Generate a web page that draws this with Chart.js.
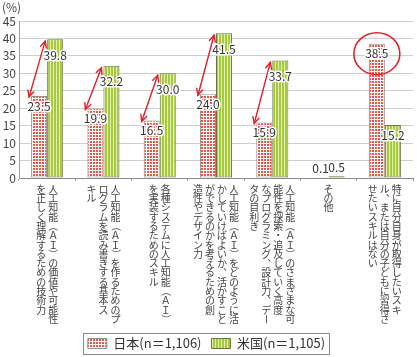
<!DOCTYPE html>
<html><head><meta charset="utf-8">
<script src="https://cdn.jsdelivr.net/npm/chart.js@4/dist/chart.umd.min.js"></script>
<style>html,body{margin:0;padding:0;background:#fff}#wrap{width:417px;height:357px;position:relative}</style>
</head><body><div id="wrap"><canvas id="c"></canvas></div>
<script>
// ---- data ----
const categories = [
  ["人工知能（ＡＩ）の価値や可能性","を正しく理解するための技術力"],
  ["人工知能（ＡＩ）を作るためのプ","ログラムを読み書きする基本ス","キル"],
  ["各種システムに人工知能（ＡＩ）","を実装するためのスキル"],
  ["人工知能（ＡＩ）をどのように活","かしていけばよいか、活かすこと","ができるのかを考えるための創","造性やデザイン力"],
  ["人工知能（ＡＩ）のさまざまな可","能性を探索・追及していく高度","なプログラミング、設計力、デー","タの目利き"],
  ["その他"],
  ["特に自分自身が取得したいスキ","ル、または自分の子どもに習得さ","せたいスキルはない"]
];
const seriesNames = ["日本(n＝1,106)", "米国(n＝1,105)"];
const japanValues = [23.5, 19.9, 16.5, 24.0, 15.9, 0.1, 38.5];
const usValues    = [39.8, 32.2, 30.0, 41.5, 33.7, 0.5, 15.2];
const yTicks = [0, 5, 10, 15, 20, 25, 30, 35, 40, 45];
const unitLabel = "(%)";
const arrowCategories = [0, 1, 2, 3, 4];
const highlightCategory = 6;

const FONT = '"Noto Sans CJK JP","Noto Sans",sans-serif';
Chart.defaults.font.family = FONT;

function makePattern(draw, w, h) {
  const c = document.createElement('canvas');
  c.width = w; c.height = h;
  draw(c.getContext('2d'));
  return c.getContext('2d').createPattern(c, 'repeat');
}
const jpPattern = makePattern(g => {
  g.fillStyle = '#ffffff'; g.fillRect(0, 0, 3, 3);
  g.fillStyle = '#e8574a'; g.fillRect(0, 0, 2, 2);
}, 3, 3);
const usPattern = makePattern(g => {
  g.fillStyle = '#e6f0ae'; g.fillRect(0, 0, 3, 1);
  g.fillStyle = '#a6c942'; g.fillRect(0, 0, 2, 1);
}, 3, 1);

const rotateChars = new Set(['（','）','(',')','ー','－','―']);

const overlayPlugin = {
  id: 'overlay',
  afterDatasetsDraw(chart) {
    const ctx = chart.ctx;
    const m0 = chart.getDatasetMeta(0).data;
    const m1 = chart.getDatasetMeta(1).data;
    // arrows
    ctx.save();
    ctx.strokeStyle = '#e4202a';
    ctx.lineWidth = 1.4;
    ctx.lineCap = 'round';
    arrowCategories.forEach(i => {
      const a = m0[i], b = m1[i];
      const x1 = a.x - a.width / 2 - 2, y1 = a.y + 1;
      const x2 = b.x - b.width / 2 - 2, y2 = b.y + 2;
      ctx.beginPath(); ctx.moveTo(x1, y1); ctx.lineTo(x2, y2); ctx.stroke();
      const head = (tx, ty, fx, fy) => {
        const ang = Math.atan2(ty - fy, tx - fx);
        const L = 7, s = 0.45;
        ctx.beginPath();
        ctx.moveTo(tx - L * Math.cos(ang - s), ty - L * Math.sin(ang - s));
        ctx.lineTo(tx, ty);
        ctx.lineTo(tx - L * Math.cos(ang + s), ty - L * Math.sin(ang + s));
        ctx.stroke();
      };
      head(x1, y1, x2, y2);
      head(x2, y2, x1, y1);
    });
    ctx.restore();
    // value labels
    ctx.save();
    ctx.font = '12px ' + FONT;
    ctx.textAlign = 'center';
    ctx.textBaseline = 'middle';
    ctx.lineJoin = 'round';
    chart.data.datasets.forEach((ds, di) => {
      chart.getDatasetMeta(di).data.forEach((bar, i) => {
        const v = ds.data[i];
        let y;
        if (v < 3) y = bar.y - 9;
        else if (di === 1 && arrowCategories.includes(i)) y = bar.y + 16;
        else y = bar.y + 10;
        const t = v.toFixed(1);
        ctx.strokeStyle = '#ffffff'; ctx.lineWidth = 3;
        ctx.strokeText(t, bar.x, y);
        ctx.fillStyle = '#333333';
        ctx.fillText(t, bar.x, y);
      });
    });
    ctx.restore();
    // highlight circle
    const h = m0[highlightCategory];
    ctx.save();
    ctx.strokeStyle = '#e4202a';
    ctx.lineWidth = 1.6;
    ctx.beginPath();
    ctx.ellipse(h.x, h.y + 10, 23, 21, 0, 0, Math.PI * 2);
    ctx.stroke();
    ctx.restore();
  },
  afterDraw(chart) {
    const ctx = chart.ctx;
    const xs = chart.scales.x;
    const area = chart.chartArea;
    // unit label
    ctx.save();
    ctx.font = '12px ' + FONT;
    ctx.fillStyle = '#444';
    ctx.textAlign = 'left';
    ctx.textBaseline = 'middle';
    ctx.fillText(unitLabel, 2, area.top - 14);
    ctx.restore();
    // vertical category labels
    ctx.save();
    ctx.font = '10px ' + FONT;
    ctx.fillStyle = '#444';
    ctx.textAlign = 'center';
    ctx.textBaseline = 'middle';
    const pitch = 9.3, colGap = 12;
    chart.data.labels.forEach((cols, i) => {
      const cx = xs.getPixelForValue(i);
      const n = cols.length;
      cols.forEach((col, j) => {
        const x = cx + (n - 1) / 2 * colGap - j * colGap;
        Array.from(col).forEach((ch, k) => {
          const y = area.bottom + 11 + k * pitch;
          if (rotateChars.has(ch)) {
            ctx.save(); ctx.translate(x, y); ctx.rotate(Math.PI / 2);
            ctx.fillText(ch, 0, 0); ctx.restore();
          } else if (ch === '、' || ch === '。') {
            ctx.fillText(ch, x + 6, y - 6);
          } else {
            ctx.fillText(ch, x, y);
          }
        });
      });
    });
    ctx.restore();
    // legend frame
    const lg = chart.legend;
    if (lg && lg.legendHitBoxes && lg.legendHitBoxes.length) {
      const hb = lg.legendHitBoxes;
      const l = Math.min(...hb.map(b => b.left)) - 5;
      const r = Math.max(...hb.map(b => b.left + b.width)) + 4;
      const t = Math.min(...hb.map(b => b.top)) - 4;
      const btm = Math.max(...hb.map(b => b.top + b.height)) + 4;
      ctx.save();
      ctx.strokeStyle = '#8a8a8a';
      ctx.lineWidth = 1;
      ctx.strokeRect(Math.round(l) + 0.5, Math.round(t) + 0.5, Math.round(r - l), Math.round(btm - t));
      ctx.restore();
    }
  }
};

new Chart(document.getElementById('c'), {
  type: 'bar',
  data: {
    labels: categories,
    datasets: [
      { label: seriesNames[0], data: japanValues, backgroundColor: jpPattern,
        borderColor: '#9a8c8c', borderWidth: 1, borderSkipped: false,
        categoryPercentage: 0.57, barPercentage: 1.0 },
      { label: seriesNames[1], data: usValues, backgroundColor: usPattern,
        borderColor: '#6f7444', borderWidth: 1, borderSkipped: false,
        categoryPercentage: 0.57, barPercentage: 1.0 }
    ]
  },
  options: {
    responsive: true,
    maintainAspectRatio: false,
    animation: false,
    devicePixelRatio: 1,
    layout: { padding: { top: 21, right: 4, left: 0, bottom: -3 } },
    plugins: {
      tooltip: { enabled: false },
      legend: {
        position: 'bottom',
        labels: { font: { size: 13, family: FONT }, color: '#333', boxWidth: 19, boxHeight: 10, padding: 10 }
      }
    },
    scales: {
      x: {
        grid: { display: true, drawOnChartArea: false, drawTicks: true, tickLength: 3, color: '#999', offset: true },
        border: { color: '#888', width: 1 },
        ticks: { callback: () => '', maxRotation: 0 },
        afterFit: s => { s.height = 149; }
      },
      y: {
        min: 0, max: 45,
        afterBuildTicks: s => { s.ticks = yTicks.map(v => ({ value: v })); },
        grid: { color: '#cfcfcf', lineWidth: 1, drawTicks: false },
        border: { color: '#a0a0a0', width: 1 },
        ticks: { color: '#444', font: { size: 12, family: FONT }, padding: 3 },
        afterFit: s => { s.width = 19; }
      }
    }
  },
  plugins: [overlayPlugin]
});
</script>
</body></html>
